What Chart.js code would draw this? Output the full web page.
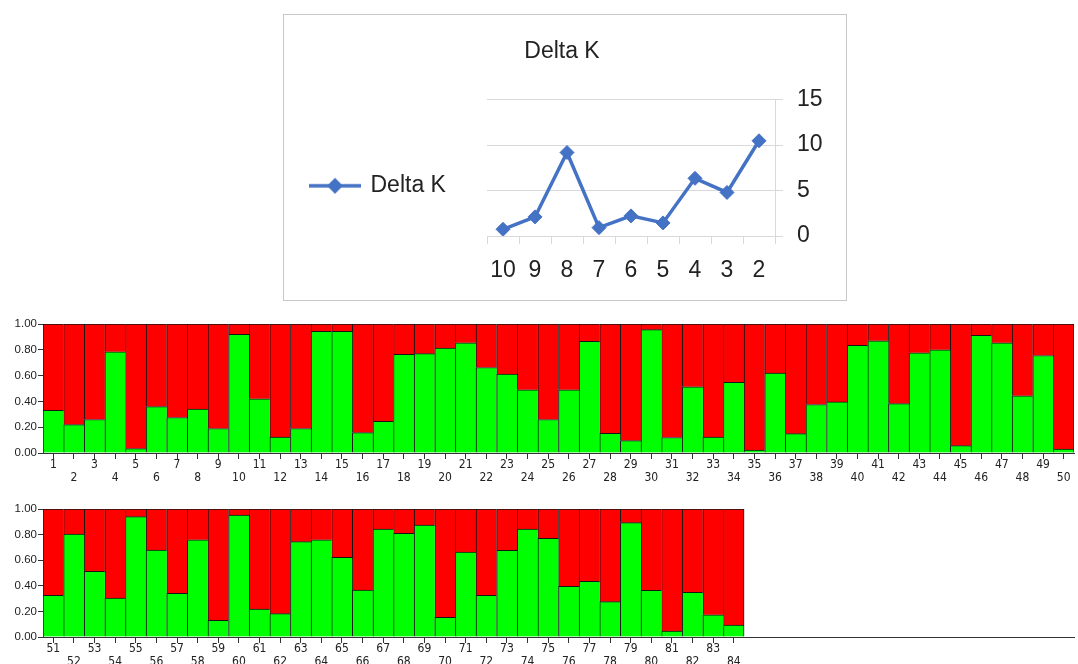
<!DOCTYPE html>
<html><head><meta charset="utf-8">
<script src="https://cdn.jsdelivr.net/npm/chart.js@4.4.1/dist/chart.umd.min.js"></script>
<style>
html,body{margin:0;padding:0;background:#fff;overflow:hidden;width:1078px;height:664px;position:relative;}
#dkbox{position:absolute;left:283px;top:14px;width:562px;height:285px;border:1px solid #c8c8c8;}
#c0{position:absolute;left:-100px;top:15px}
#s1{position:absolute;left:0;top:315px}
#s2{position:absolute;left:0;top:500px}
</style></head><body>
<div id="dkbox"></div>
<canvas id="c0" width="1324" height="285"></canvas>
<canvas id="s1" width="1078" height="170"></canvas>
<canvas id="s2" width="1078" height="164"></canvas>
<script>
// ---- Delta K data ----
const deltaKCategories = ['10','9','8','7','6','5','4','3','2'];
const deltaKValues = [0.74, 2.1, 9.18, 0.92, 2.21, 1.44, 6.34, 4.79, 10.47];
const deltaKTicks = [0, 5, 10, 15];

// ---- STRUCTURE plot 1 (individuals 1-50) ----
const individuals1 = ['1','2','3','4','5','6','7','8','9','10','11','12','13','14','15','16','17','18','19','20','21','22','23','24','25','26','27','28','29','30','31','32','33','34','35','36','37','38','39','40','41','42','43','44','45','46','47','48','49','50'];
const green1 = [0.33,0.22,0.26,0.785,0.034,0.36,0.275,0.34,0.19,0.92,0.42,0.124,0.19,0.943,0.943,0.158,0.246,0.764,0.77,0.813,0.855,0.663,0.611,0.49,0.26,0.49,0.865,0.153,0.096,0.956,0.12,0.513,0.124,0.547,0.023,0.62,0.15,0.376,0.396,0.834,0.87,0.383,0.777,0.80,0.057,0.912,0.855,0.443,0.756,0.031];
const red1 = [0.67,0.78,0.74,0.215,0.966,0.64,0.725,0.66,0.81,0.08,0.58,0.876,0.81,0.057,0.057,0.842,0.754,0.236,0.23,0.187,0.145,0.337,0.389,0.51,0.74,0.51,0.135,0.847,0.904,0.044,0.88,0.487,0.876,0.453,0.977,0.38,0.85,0.624,0.604,0.166,0.13,0.617,0.223,0.20,0.943,0.088,0.145,0.557,0.244,0.969];

// ---- STRUCTURE plot 2 (individuals 51-84) ----
const individuals2 = ['51','52','53','54','55','56','57','58','59','60','61','62','63','64','65','66','67','68','69','70','71','72','73','74','75','76','77','78','79','80','81','82','83','84'];
const green2 = [0.326,0.805,0.513,0.305,0.94,0.68,0.341,0.76,0.13,0.953,0.219,0.182,0.745,0.76,0.622,0.367,0.844,0.81,0.875,0.154,0.664,0.326,0.677,0.844,0.77,0.396,0.435,0.276,0.893,0.365,0.047,0.349,0.174,0.094];
const red2 = [0.674,0.195,0.487,0.695,0.06,0.32,0.659,0.24,0.87,0.047,0.781,0.818,0.255,0.24,0.378,0.633,0.156,0.19,0.125,0.846,0.336,0.674,0.323,0.156,0.23,0.604,0.565,0.724,0.107,0.635,0.953,0.651,0.826,0.906];
const qTicks = [0, 0.2, 0.4, 0.6, 0.8, 1.0];
const slotsPerRow = 50;

const BLUE = '#4472C4';
const TXT = '#222';
const SANS = '"Liberation Sans", Arial, sans-serif';
const NARROW = '"Liberation Sans Narrow", "DejaVu Sans Condensed", "Liberation Sans", sans-serif';

// legend marker: line with diamond
const marker = document.createElement('canvas');
marker.width = 52; marker.height = 20;
(function(){
  const g = marker.getContext('2d');
  g.strokeStyle = BLUE; g.lineWidth = 3.5;
  g.beginPath(); g.moveTo(0, 10); g.lineTo(52, 10); g.stroke();
  g.fillStyle = BLUE;
  g.beginPath(); g.moveTo(26-8, 10); g.lineTo(26, 2); g.lineTo(26+8, 10); g.lineTo(26, 18); g.closePath(); g.fill();
})();

// Delta K canvas spans page x -100 .. 1224 (box 283..847 centred in it)
new Chart(document.getElementById('c0'), {
  type: 'line',
  data: {
    labels: deltaKCategories,
    datasets: [{
      label: 'Delta K', data: deltaKValues, borderColor: BLUE, backgroundColor: BLUE,
      borderWidth: 3.5, pointStyle: 'rectRot', pointRadius: 7, pointBorderWidth: 1,
      pointBackgroundColor: BLUE, pointBorderColor: BLUE, tension: 0, yAxisID: 'y'
    }]
  },
  options: {
    responsive: false, animation: false, events: [],
    layout: { padding: 0 },
    plugins: {
      tooltip: { enabled: false },
      title: { display: true, text: 'Delta K', color: TXT, font: { family: SANS, size: 23, weight: 'normal', lineHeight: 1.2 }, padding: { top: 23, bottom: 34 } },
      legend: {
        display: true, position: 'left', fullSize: false, align: 'center',
        title: { display: true, text: ' ', font: { size: 10, lineHeight: 1 }, padding: { top: 26, bottom: 0 } },
        labels: { usePointStyle: true, pointStyle: marker, pointStyleWidth: 48, padding: 10, color: TXT, font: { family: SANS, size: 23 } }
      }
    },
    scales: {
      x: {
        offset: true,
        grid: { display: true, drawOnChartArea: false, offset: true, tickLength: 8, color: '#d9d9d9', tickColor: '#d9d9d9' },
        border: { display: true, color: '#d9d9d9', width: 1 },
        ticks: { color: TXT, padding: 13, maxRotation: 0, autoSkip: false, font: { family: SANS, size: 23 } },
        afterFit: s => { s.height = 64; }
      },
      y: {
        position: 'right', min: 0, max: 15,
        afterBuildTicks: s => { s.ticks = deltaKTicks.map(v => ({ value: v })); },
        grid: { display: true, color: '#d9d9d9', tickLength: 8 },
        border: { display: true, color: '#d9d9d9' },
        ticks: { color: TXT, padding: 14, font: { family: SANS, size: 23 } },
        afterFit: s => { s.width = 449; }
      },
      outerGap: {
        type: 'linear', position: 'left', weight: 2000, display: true,
        grid: { display: false }, border: { display: false }, ticks: { display: false },
        afterFit: s => { s.width = 401; }
      },
      innerGap: {
        type: 'linear', position: 'left', weight: 0, display: true,
        grid: { display: false }, border: { display: false }, ticks: { display: false },
        afterFit: s => { s.width = Math.max(0, 186 - s.chart.legend.width); }
      }
    }
  }
});

function structureChart(id, names, green, red, xHeight) {
  const n = names.length;
  const labels = names.concat(Array(slotsPerRow - n).fill(''));
  const bw = ctx => ({ top: 1, left: 1, bottom: 0, right: ctx.dataIndex === n - 1 ? 1 : 0 });
  return new Chart(document.getElementById(id), {
    type: 'bar',
    data: {
      labels: labels,
      datasets: [
        { label: 'Cluster 1', data: green, backgroundColor: '#00ff00', borderColor: '#151515', borderWidth: bw, borderSkipped: false, barPercentage: 1, categoryPercentage: 1 },
        { label: 'Cluster 2', data: red, backgroundColor: '#ff0000', borderColor: '#151515', borderWidth: bw, borderSkipped: false, barPercentage: 1, categoryPercentage: 1 }
      ]
    },
    options: {
      responsive: false, animation: false, events: [],
      layout: { padding: { top: 9, right: 4, left: 0, bottom: 0 } },
      plugins: { legend: { display: false }, tooltip: { enabled: false } },
      scales: {
        x: {
          stacked: true,
          grid: { display: true, drawOnChartArea: false, offset: false, tickLength: 6, color: '#333',
                  tickColor: c => (c.index < n ? '#333' : 'rgba(0,0,0,0)') },
          border: { display: true, color: '#333', width: 1 },
          ticks: { autoSkip: false, maxRotation: 0, minRotation: 0, padding: 0, color: TXT,
                   font: { family: NARROW, size: 12, lineHeight: 1.03 },
                   callback: function(v, i) { const l = this.getLabelForValue(v); return i % 2 ? ['', l] : l; } },
          afterFit: s => { s.height = xHeight; }
        },
        y: {
          stacked: true, min: 0, max: 1,
          afterBuildTicks: s => { s.ticks = qTicks.map(v => ({ value: v })); },
          grid: { display: true, drawOnChartArea: false, tickLength: 5, color: '#333' },
          border: { display: true, color: '#333' },
          ticks: { padding: 1, color: TXT, font: { family: SANS, size: 11.5 }, callback: v => v.toFixed(2) },
          afterFit: s => { s.width = 43; }
        }
      }
    }
  });
}

structureChart('s1', individuals1, green1, red1, 32);
structureChart('s2', individuals2, green2, red2, 27);
</script>
</body></html>
